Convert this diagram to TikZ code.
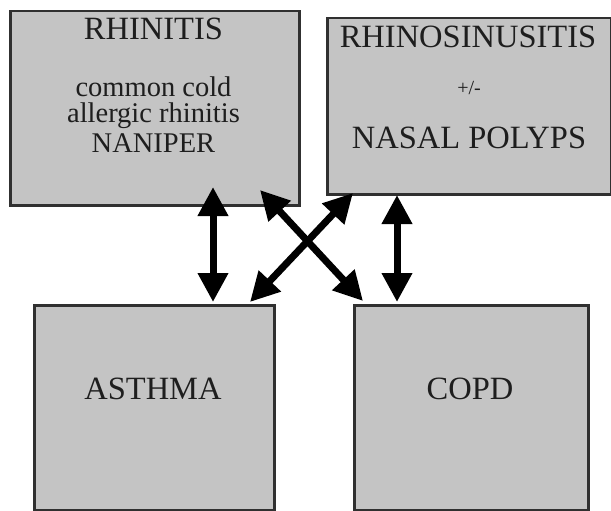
\documentclass[tikz,border=0pt]{standalone}
\usepackage{fontspec}
\setmainfont{Liberation Serif}
\usetikzlibrary{arrows.meta}
\definecolor{boxgray}{HTML}{C4C4C4}
\definecolor{edgegray}{HTML}{303030}
\definecolor{txt}{HTML}{1E1E1E}
\begin{document}
\begin{tikzpicture}[x=1pt,y=-1pt,
  box/.style={draw=edgegray, fill=boxgray, line width=2.5pt, rectangle, inner sep=0pt, anchor=north west},
  lbl/.style={anchor=base, inner sep=0pt, text=txt},
  big/.style={font=\fontsize{32.5}{32.5}\selectfont},
  small/.style={font=\fontsize{28.5}{28.5}\selectfont},
  dbl/.style={line width=7pt, {Triangle[length=29pt,width=29pt]}-{Triangle[length=29pt,width=29pt]}}]
\useasboundingbox (0,0) rectangle (611,511);
\fill[white] (0,0) rectangle (611,511);
% boxes
\node[box, minimum width=289pt, minimum height=194pt] (rhin) at (9,10) {};
\node[box, minimum width=284pt, minimum height=176pt] (sinus) at (326,17) {};
\node[box, minimum width=240pt, minimum height=205pt] (asthma) at (33,304) {};
\node[box, minimum width=234pt, minimum height=205pt] (copd) at (353,304) {};
% texts
\node[lbl, big] (t1) at (153.5,40) {RHINITIS};
\node[lbl, small] (t2) at (153.5,97) {common cold};
\node[lbl, small] (t3) at (153.5,123) {allergic rhinitis};
\node[lbl, small] (t4) at (153.5,152) {NANIPER};
\node[lbl, big] (t5) at (468,48) {RHINOSINUSITIS};
\node[lbl, font=\fontsize{20}{20}\selectfont] (t6) at (469,95) {+/-};
\node[lbl, big] (t7) at (469,148) {NASAL POLYPS};
\node[lbl, big] (t8) at (153,399) {ASTHMA};
\node[lbl, big] (t9) at (470,399) {COPD};
% arrow ends
\coordinate (a1) at (213,187);
\coordinate (b1) at (213,302);
\coordinate (a2) at (397,195);
\coordinate (b2) at (397,302);
\coordinate (a3) at (260,190);
\coordinate (b3) at (363,301);
\coordinate (a4) at (353,193);
\coordinate (b4) at (250,302);
\draw[dbl] (a1) -- (b1);
\draw[dbl] (a2) -- (b2);
\draw[dbl] (a3) -- (b3);
\draw[dbl] (a4) -- (b4);
\end{tikzpicture}
\end{document}
